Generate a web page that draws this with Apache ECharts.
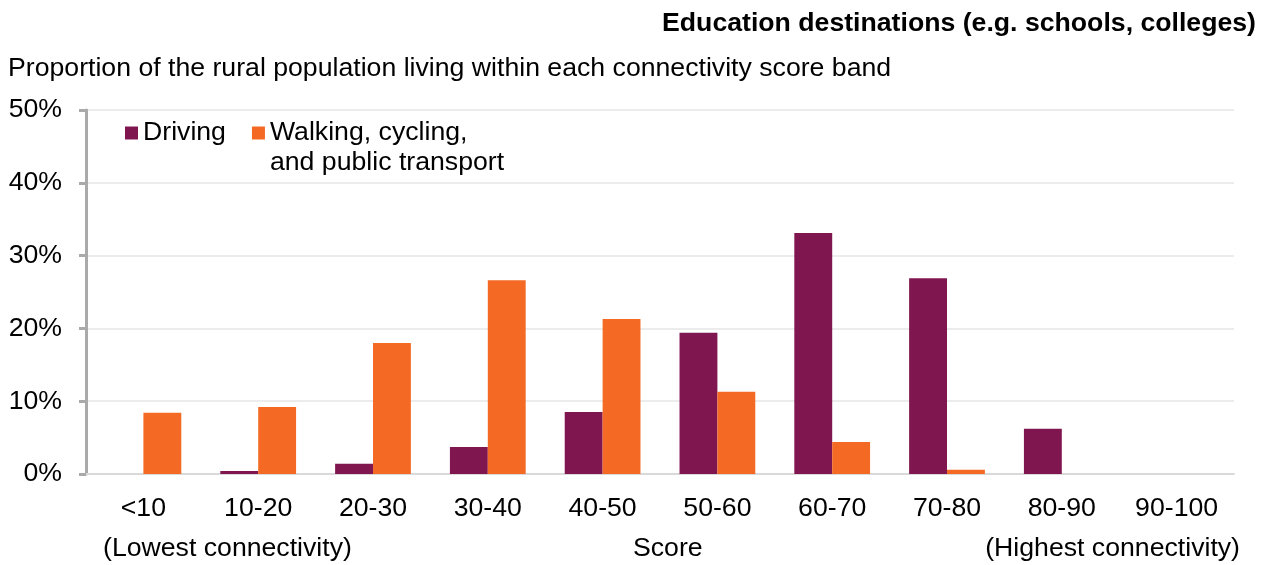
<!DOCTYPE html>
<html><head><meta charset="utf-8">
<script src="https://cdn.jsdelivr.net/npm/echarts@6/dist/echarts.min.js"></script>
<style>html,body{margin:0;padding:0;background:#fff}#c{width:1264px;height:565px}</style>
</head><body><div id="c"></div>
<script>
const categories = ['<10','10-20','20-30','30-40','40-50','50-60','60-70','70-80','80-90','90-100'];
const driving = [0, 0.4, 1.4, 3.7, 8.5, 19.4, 33.1, 26.9, 6.2, 0];
const walking = [8.4, 9.2, 18.0, 26.6, 21.3, 11.3, 4.4, 0.6, 0, 0];
const yTicks = [0, 10, 20, 30, 40, 50];
const seriesNames = ['Driving', 'Walking, cycling,\nand public transport'];

const FONT = '"Liberation Sans", Arial, sans-serif';
const FS = 26.67;
const chart = echarts.init(document.getElementById('c'), null, {renderer: 'canvas'});
chart.setOption({
  animation: false,
  textStyle: {fontFamily: FONT},
  title: [
    {text: 'Education destinations (e.g. schools, colleges)', right: 8, top: 10, padding: 0,
     textStyle: {fontFamily: FONT, fontSize: FS, fontWeight: 'bold', color: '#000'}},
    {text: 'Proportion of the rural population living within each connectivity score band', left: 8, top: 55, padding: 0,
     textStyle: {fontFamily: FONT, fontSize: FS, fontWeight: 'normal', color: '#000'}}
  ],
  legend: {
    left: 125, top: 88, padding: 0, itemWidth: 13, itemHeight: 13, itemGap: 26,
    icon: 'rect',
    textStyle: {fontFamily: FONT, fontSize: FS, color: '#000', lineHeight: 30},
    formatter: function (name) {
      return name === seriesNames[0] ? '\n' + name + '\n' : '\n' + name;
    },
    data: seriesNames
  },
  grid: {left: 86, right: 30, top: 110, bottom: 91},
  xAxis: {
    type: 'category', data: categories,
    axisLine: {lineStyle: {color: '#d9d9d9', width: 2}},
    axisTick: {show: false},
    axisLabel: {fontFamily: FONT, fontSize: FS, color: '#000', margin: 21}
  },
  yAxis: {
    type: 'value', min: yTicks[0], max: yTicks[yTicks.length-1], interval: 10,
    axisLine: {show: true, lineStyle: {color: '#aaaaaa', width: 3}},
    axisTick: {show: true, length: 7, lineStyle: {color: '#aaaaaa', width: 3}},
    splitLine: {lineStyle: {color: '#ececec', width: 2}},
    axisLabel: {fontFamily: FONT, fontSize: FS, color: '#000', margin: 24, formatter: '{value}%'}
  },
  graphic: [
    {type: 'text', left: 103, top: 535, style: {text: '(Lowest connectivity)', font: FS + 'px ' + FONT, fill: '#000'}},
    {type: 'text', left: 633, top: 535, style: {text: 'Score', font: FS + 'px ' + FONT, fill: '#000'}},
    {type: 'text', right: 24, top: 535, style: {text: '(Highest connectivity)', font: FS + 'px ' + FONT, fill: '#000'}}
  ],
  series: [
    {name: seriesNames[0], type: 'bar', data: driving, barGap: '0%', barCategoryGap: '34%',
     itemStyle: {color: '#801650'}},
    {name: seriesNames[1], type: 'bar', data: walking, barGap: '0%', barCategoryGap: '34%',
     itemStyle: {color: '#f46a25'}}
  ]
});
</script></body></html>
